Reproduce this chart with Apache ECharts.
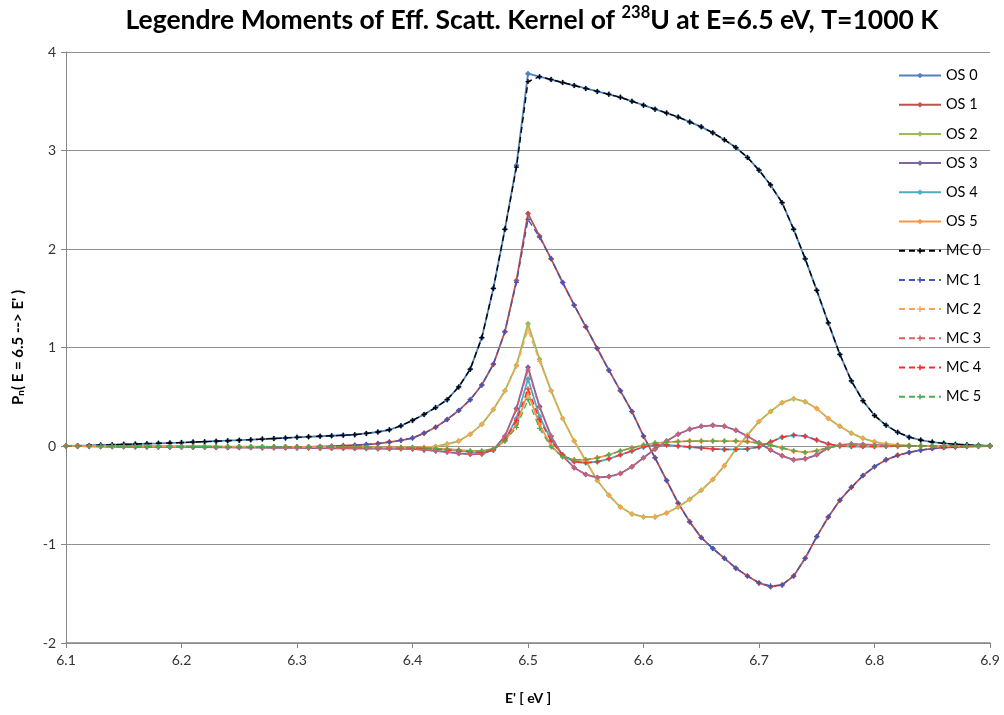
<!DOCTYPE html>
<html><head><meta charset="utf-8">
<script src="https://cdn.jsdelivr.net/npm/echarts@6/dist/echarts.min.js"></script>
<style>html,body{margin:0;padding:0;background:#fff}#c{width:1004px;height:715px}</style>
</head><body><div id="c"></div>
<script>
// Energy grid E' [eV]
const E = [6.10,6.11,6.12,6.13,6.14,6.15,6.16,6.17,6.18,6.19,6.20,6.21,6.22,6.23,6.24,6.25,6.26,6.27,6.28,6.29,6.30,6.31,6.32,6.33,6.34,6.35,6.36,6.37,6.38,6.39,6.40,6.41,6.42,6.43,6.44,6.45,6.46,6.47,6.48,6.49,6.50,6.51,6.52,6.53,6.54,6.55,6.56,6.57,6.58,6.59,6.60,6.61,6.62,6.63,6.64,6.65,6.66,6.67,6.68,6.69,6.70,6.71,6.72,6.73,6.74,6.75,6.76,6.77,6.78,6.79,6.80,6.81,6.82,6.83,6.84,6.85,6.86,6.87,6.88,6.89,6.90];

const OS0 = [0.000,0.003,0.006,0.010,0.013,0.017,0.020,0.024,0.027,0.031,0.035,0.040,0.044,0.049,0.054,0.059,0.064,0.070,0.076,0.082,0.088,0.094,0.099,0.104,0.109,0.115,0.128,0.142,0.165,0.205,0.26,0.32,0.39,0.47,0.60,0.78,1.10,1.60,2.20,2.85,3.78,3.75,3.72,3.69,3.66,3.63,3.60,3.57,3.54,3.50,3.46,3.42,3.38,3.34,3.29,3.24,3.18,3.11,3.03,2.93,2.80,2.65,2.47,2.20,1.90,1.58,1.25,0.93,0.66,0.46,0.31,0.21,0.14,0.09,0.060,0.040,0.027,0.018,0.012,0.007,0.004];
const OS1 = [0.000,-0.002,-0.003,-0.004,-0.005,-0.006,-0.007,-0.008,-0.009,-0.010,-0.010,-0.011,-0.011,-0.012,-0.012,-0.012,-0.012,-0.012,-0.012,-0.011,-0.010,-0.008,-0.005,-0.002,0.003,0.008,0.015,0.025,0.040,0.058,0.080,0.13,0.19,0.27,0.36,0.47,0.62,0.83,1.16,1.68,2.36,2.13,1.90,1.66,1.43,1.21,0.99,0.77,0.56,0.35,0.10,-0.12,-0.35,-0.58,-0.77,-0.93,-1.04,-1.14,-1.24,-1.32,-1.39,-1.43,-1.41,-1.32,-1.14,-0.92,-0.72,-0.55,-0.42,-0.30,-0.21,-0.14,-0.095,-0.065,-0.042,-0.026,-0.016,-0.010,-0.006,-0.003,-0.002];
const OS2 = [0.000,-0.001,-0.002,-0.003,-0.003,-0.004,-0.004,-0.005,-0.005,-0.006,-0.006,-0.006,-0.007,-0.007,-0.008,-0.008,-0.008,-0.009,-0.009,-0.010,-0.010,-0.011,-0.011,-0.012,-0.012,-0.013,-0.014,-0.015,-0.016,-0.017,-0.017,-0.015,-0.005,0.02,0.05,0.12,0.22,0.37,0.56,0.82,1.24,0.88,0.56,0.28,0.05,-0.15,-0.35,-0.50,-0.62,-0.69,-0.72,-0.72,-0.68,-0.62,-0.54,-0.45,-0.34,-0.20,-0.03,0.11,0.25,0.35,0.44,0.48,0.45,0.38,0.28,0.20,0.13,0.078,0.042,0.020,0.010,0.004,0.001,0.000,0.000,0.000,0.000,0.000,0.000];
const OS3 = [0.000,-0.001,-0.002,-0.003,-0.004,-0.005,-0.006,-0.007,-0.008,-0.009,-0.010,-0.011,-0.012,-0.013,-0.014,-0.015,-0.016,-0.017,-0.018,-0.019,-0.020,-0.021,-0.022,-0.023,-0.024,-0.025,-0.026,-0.027,-0.028,-0.029,-0.030,-0.040,-0.050,-0.062,-0.075,-0.085,-0.080,-0.040,0.10,0.38,0.80,0.40,0.10,-0.10,-0.22,-0.29,-0.32,-0.31,-0.28,-0.21,-0.12,-0.03,0.05,0.12,0.17,0.20,0.21,0.20,0.16,0.10,0.03,-0.04,-0.10,-0.14,-0.13,-0.09,-0.02,0.01,0.02,0.015,0.010,0.006,0.004,0.002,0.001,0.000,0.000,0.000,0.000,0.000,0.000];
const OS4 = [0.000,-0.001,-0.002,-0.002,-0.003,-0.003,-0.004,-0.004,-0.005,-0.005,-0.006,-0.006,-0.007,-0.007,-0.008,-0.008,-0.009,-0.009,-0.010,-0.010,-0.011,-0.011,-0.012,-0.012,-0.013,-0.014,-0.015,-0.016,-0.017,-0.019,-0.020,-0.025,-0.030,-0.040,-0.050,-0.060,-0.065,-0.040,0.06,0.28,0.68,0.30,0.06,-0.09,-0.16,-0.17,-0.16,-0.13,-0.09,-0.05,-0.01,0.01,0.01,0.00,-0.01,-0.02,-0.03,-0.035,-0.035,-0.03,-0.01,0.04,0.09,0.11,0.10,0.06,0.02,0.00,-0.005,-0.006,-0.005,-0.003,-0.002,-0.001,0.000,0.000,0.000,0.000,0.000,0.000,0.000];
const OS5 = [0.000,-0.001,-0.001,-0.002,-0.002,-0.003,-0.003,-0.003,-0.004,-0.004,-0.005,-0.005,-0.005,-0.006,-0.006,-0.007,-0.007,-0.007,-0.008,-0.008,-0.009,-0.009,-0.010,-0.010,-0.011,-0.011,-0.012,-0.013,-0.014,-0.015,-0.015,-0.020,-0.025,-0.032,-0.040,-0.050,-0.050,-0.030,0.05,0.22,0.54,0.22,0.00,-0.11,-0.14,-0.14,-0.12,-0.09,-0.05,-0.02,0.01,0.03,0.04,0.045,0.05,0.05,0.05,0.05,0.05,0.045,0.03,0.01,-0.02,-0.05,-0.065,-0.05,-0.015,0.005,0.008,0.006,0.004,0.002,0.001,0.000,0.000,0.000,0.000,0.000,0.000,0.000,0.000];

const MC0 = [0.000,0.003,0.006,0.010,0.013,0.017,0.020,0.024,0.027,0.031,0.035,0.040,0.044,0.049,0.054,0.059,0.064,0.070,0.076,0.082,0.088,0.094,0.099,0.104,0.109,0.115,0.128,0.142,0.165,0.205,0.26,0.32,0.39,0.47,0.60,0.78,1.10,1.60,2.20,2.83,3.70,3.75,3.72,3.69,3.66,3.63,3.60,3.57,3.54,3.50,3.46,3.42,3.38,3.34,3.29,3.24,3.18,3.11,3.03,2.93,2.80,2.65,2.47,2.20,1.90,1.58,1.25,0.93,0.66,0.46,0.31,0.21,0.14,0.09,0.060,0.040,0.027,0.018,0.012,0.007,0.004];
const MC1 = [0.000,-0.002,-0.003,-0.004,-0.005,-0.006,-0.007,-0.008,-0.009,-0.010,-0.010,-0.011,-0.011,-0.012,-0.012,-0.012,-0.012,-0.012,-0.012,-0.011,-0.010,-0.008,-0.005,-0.002,0.003,0.008,0.015,0.025,0.040,0.058,0.080,0.13,0.19,0.27,0.36,0.47,0.62,0.83,1.16,1.66,2.30,2.12,1.90,1.66,1.43,1.21,0.99,0.77,0.56,0.35,0.10,-0.12,-0.35,-0.58,-0.77,-0.93,-1.04,-1.14,-1.24,-1.32,-1.39,-1.42,-1.41,-1.32,-1.14,-0.92,-0.72,-0.55,-0.42,-0.30,-0.21,-0.14,-0.095,-0.065,-0.042,-0.026,-0.016,-0.010,-0.006,-0.003,-0.002];
const MC2 = [0.000,-0.001,-0.002,-0.003,-0.003,-0.004,-0.004,-0.005,-0.005,-0.006,-0.006,-0.006,-0.007,-0.007,-0.008,-0.008,-0.008,-0.009,-0.009,-0.010,-0.010,-0.011,-0.011,-0.012,-0.012,-0.013,-0.014,-0.015,-0.016,-0.017,-0.017,-0.015,-0.005,0.02,0.05,0.12,0.22,0.37,0.56,0.81,1.18,0.86,0.56,0.28,0.05,-0.15,-0.35,-0.50,-0.62,-0.69,-0.72,-0.72,-0.68,-0.62,-0.54,-0.45,-0.34,-0.20,-0.03,0.11,0.25,0.35,0.44,0.48,0.45,0.38,0.28,0.20,0.13,0.078,0.042,0.020,0.010,0.004,0.001,0.000,0.000,0.000,0.000,0.000,0.000];
const MC3 = [0.000,-0.001,-0.002,-0.003,-0.004,-0.005,-0.006,-0.007,-0.008,-0.009,-0.010,-0.011,-0.012,-0.013,-0.014,-0.015,-0.016,-0.017,-0.018,-0.019,-0.020,-0.021,-0.022,-0.023,-0.024,-0.025,-0.026,-0.027,-0.028,-0.029,-0.030,-0.040,-0.050,-0.062,-0.075,-0.085,-0.080,-0.040,0.10,0.37,0.77,0.39,0.10,-0.10,-0.22,-0.29,-0.32,-0.31,-0.28,-0.21,-0.12,-0.03,0.05,0.12,0.17,0.20,0.21,0.20,0.16,0.10,0.03,-0.04,-0.10,-0.14,-0.13,-0.09,-0.02,0.01,0.02,0.015,0.010,0.006,0.004,0.002,0.001,0.000,0.000,0.000,0.000,0.000,0.000];
const MC4 = [0.000,-0.001,-0.002,-0.002,-0.003,-0.003,-0.004,-0.004,-0.005,-0.005,-0.006,-0.006,-0.007,-0.007,-0.008,-0.008,-0.009,-0.009,-0.010,-0.010,-0.011,-0.011,-0.012,-0.012,-0.013,-0.014,-0.015,-0.016,-0.017,-0.019,-0.020,-0.025,-0.030,-0.040,-0.050,-0.060,-0.065,-0.040,0.06,0.26,0.58,0.27,0.05,-0.09,-0.16,-0.17,-0.16,-0.13,-0.09,-0.05,-0.01,0.01,0.01,0.00,-0.01,-0.02,-0.03,-0.035,-0.035,-0.03,-0.01,0.04,0.09,0.11,0.10,0.06,0.02,0.00,-0.005,-0.006,-0.005,-0.003,-0.002,-0.001,0.000,0.000,0.000,0.000,0.000,0.000,0.000];
const MC5 = [0.000,-0.001,-0.001,-0.002,-0.002,-0.003,-0.003,-0.003,-0.004,-0.004,-0.005,-0.005,-0.005,-0.006,-0.006,-0.007,-0.007,-0.007,-0.008,-0.008,-0.009,-0.009,-0.010,-0.010,-0.011,-0.011,-0.012,-0.013,-0.014,-0.015,-0.015,-0.020,-0.025,-0.032,-0.040,-0.050,-0.050,-0.030,0.05,0.19,0.47,0.18,-0.01,-0.11,-0.14,-0.14,-0.12,-0.09,-0.05,-0.02,0.01,0.03,0.04,0.045,0.05,0.05,0.05,0.05,0.05,0.045,0.03,0.01,-0.02,-0.05,-0.065,-0.05,-0.015,0.005,0.008,0.006,0.004,0.002,0.001,0.000,0.000,0.000,0.000,0.000,0.000,0.000,0.000];

const osNames = ['OS 0','OS 1','OS 2','OS 3','OS 4','OS 5'];
const mcNames = ['MC 0','MC 1','MC 2','MC 3','MC 4','MC 5'];
const osValues = [OS0,OS1,OS2,OS3,OS4,OS5];
const mcValues = [MC0,MC1,MC2,MC3,MC4,MC5];
const osColors = ['#4f81bd','#c0504d','#9bbb59','#8064a2','#4bacc6','#f79646'];
const mcColors = ['#000000','#3f55b8','#ffa54f','#d9606a','#ff2a2a','#4cab55'];
const xTicks = [6.1,6.2,6.3,6.4,6.5,6.6,6.7,6.8,6.9];
const yTicks = [-2,-1,0,1,2,3,4];

const PLUS = 'path://M3,0H5V3H8V5H5V8H3V5H0V3H3Z';
const FONT = 'Lato, "Open Sans", sans-serif';

const series = [];
osValues.forEach((v, k) => series.push({
  name: osNames[k], type: 'line', data: E.map((e, i) => [e, v[i]]),
  symbol: 'diamond', symbolSize: 6, showAllSymbol: true,
  lineStyle: { color: osColors[k], width: 1.8 }, itemStyle: { color: osColors[k] },
  emphasis: { disabled: true }, z: 2
}));
mcValues.forEach((v, k) => series.push({
  name: mcNames[k], type: 'line', data: E.map((e, i) => [e, v[i]]),
  symbol: PLUS, symbolSize: 5, showAllSymbol: true,
  lineStyle: { color: mcColors[k], width: 1.4, type: [6, 4] }, itemStyle: { color: mcColors[k] },
  emphasis: { disabled: true }, z: 3
}));

const chart = echarts.init(document.getElementById('c'), null, { renderer: 'canvas' });
chart.setOption({
  animation: false,
  backgroundColor: '#ffffff',
  textStyle: { fontFamily: FONT },
  graphic: [{
    type: 'text', x: 532, y: 20,
    style: {
      text: 'Legendre Moments of Eff. Scatt. Kernel of {sup|238}U at E=6.5 eV, T=1000 K',
      fontFamily: FONT, fontSize: 26.5, fontWeight: 'bold', fill: '#000',
      align: 'center', verticalAlign: 'middle',
      rich: { sup: { fontFamily: FONT, fontSize: 16.5, fontWeight: 'bold', fill: '#000', verticalAlign: 'top', lineHeight: 31 } }
    }
  }],
  grid: { left: 66, right: 14, top: 52, bottom: 72, containLabel: false },
  legend: {
    orient: 'vertical', left: 893, top: 63,
    itemWidth: 42, itemHeight: 7, itemGap: 14.2,
    textStyle: { fontFamily: FONT, fontSize: 14.5, color: '#000' },
    data: osNames.concat(mcNames)
  },
  xAxis: {
    type: 'value', min: xTicks[0], max: xTicks[xTicks.length - 1], interval: 0.1,
    name: "E' [ eV ]", nameLocation: 'middle', nameGap: 48,
    nameTextStyle: { fontFamily: FONT, fontSize: 14, fontWeight: 'bold', color: '#000' },
    axisLine: { onZero: false, lineStyle: { color: '#868686', width: 1.5 } },
    axisTick: { show: true, length: 5, lineStyle: { color: '#868686' } },
    axisLabel: { fontFamily: FONT, fontSize: 14, color: '#333', margin: 10, formatter: v => v.toFixed(1) },
    splitLine: { show: false }
  },
  yAxis: {
    type: 'value', min: yTicks[0], max: yTicks[yTicks.length - 1], interval: 1,
    name: "P{sub|n}( E = 6.5 --> E' )", nameLocation: 'middle', nameGap: 40, nameRotate: 90,
    nameTextStyle: { fontFamily: FONT, fontSize: 15, fontWeight: 'bold', color: '#000',
      rich: { sub: { fontFamily: FONT, fontSize: 10, fontWeight: 'bold', color: '#000', verticalAlign: 'bottom' } } },
    axisLine: { show: true, lineStyle: { color: '#868686', width: 1 } },
    axisTick: { show: true, length: 5, lineStyle: { color: '#868686' } },
    axisLabel: { fontFamily: FONT, fontSize: 14, color: '#333', margin: 10 },
    splitLine: { show: true, lineStyle: { color: '#919191', width: 1 } }
  },
  series: series
});
</script>
</body></html>
